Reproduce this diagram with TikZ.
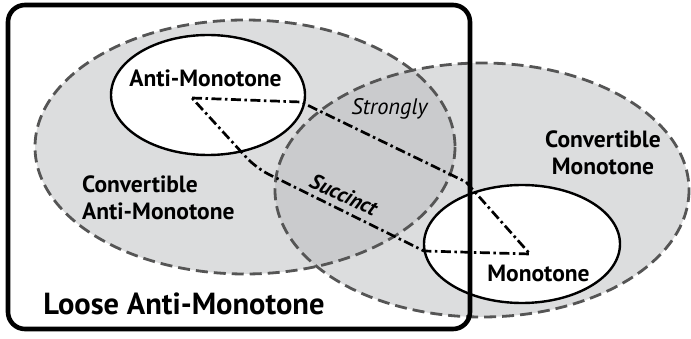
\documentclass[tikz,border=0pt]{standalone}
\usepackage{fontspec}
\setsansfont{PT Sans}
\definecolor{setfill}{RGB}{220,221,222}
\definecolor{overlapfill}{RGB}{202,203,205}
\definecolor{setedge}{RGB}{85,85,85}
\begin{document}
\begin{tikzpicture}[x=1pt,y=-1pt,
  setarea/.style={fill=setfill},
  setborder/.style={draw=setedge,line width=2.8pt,dash pattern=on 12pt off 6pt},
  classbox/.style={draw=black,fill=white,line width=2.4pt},
  chain/.style={draw=black,line width=2.7pt,dash pattern=on 10pt off 3.5pt on 2.5pt off 3.5pt,line join=round},
  lbl/.style={font=\sffamily\bfseries\fontsize{23.5}{27}\selectfont,inner sep=0pt},
  ]
\useasboundingbox (0,0) rectangle (691,339);

% convertible classes: two overlapping shaded regions
\fill[setarea] (245,147) ellipse [x radius=210, y radius=127];
\fill[setarea] (482,190) ellipse [x radius=207, y radius=127];
\begin{scope}
  \clip (245,147) ellipse [x radius=210, y radius=127];
  \fill[overlapfill] (482,190) ellipse [x radius=207, y radius=127];
\end{scope}
\draw[setborder] (245,147) ellipse [x radius=210, y radius=127];
\draw[setborder] (482,190) ellipse [x radius=207, y radius=127];

% the two basic classes
\draw[classbox] (208,95) ellipse [x radius=97, y radius=60];
\draw[classbox] (522,244) ellipse [x radius=98, y radius=59];

% succinct / strongly region
\coordinate (pa) at (192,98);
\coordinate (pb) at (301,102);
\coordinate (pc) at (466,182);
\coordinate (pd) at (530,254);
\coordinate (pe) at (424,251);
\coordinate (pf) at (256,168);
\draw[chain] (pa) -- (pb) -- (pc) -- (pd) -- (pe)
  {[rounded corners=14pt] -- (pf) -- (pa)};

% loose anti-monotone frame
\draw[line width=4.6pt,rounded corners=17pt] (8,5) rectangle (470,329);

% labels
\node[lbl] (am) at (205.5,78) {Anti-Monotone};
\node[lbl] (mono) at (538.5,273.5) {Monotone};
\node[lbl,align=center] (cm) at (603,153) {Convertible\\Monotone};
\node[lbl,align=left,anchor=west] (cam) at (82,197.5) {Convertible\\Anti-Monotone};
\node[font=\sffamily\itshape\fontsize{22.5}{26}\selectfont,inner sep=0pt,anchor=base] (str) at (389.5,115) {Strongly};
\node[font=\sffamily\bfseries\itshape\fontsize{21.5}{25}\selectfont,inner sep=0pt,rotate=-25,anchor=base] (suc) at (340.5,201.5) {Succinct};
\node[font=\sffamily\bfseries\fontsize{30.5}{34}\selectfont,inner sep=0pt] (loose) at (184,304) {Loose Anti-Monotone};
\end{tikzpicture}
\end{document}
